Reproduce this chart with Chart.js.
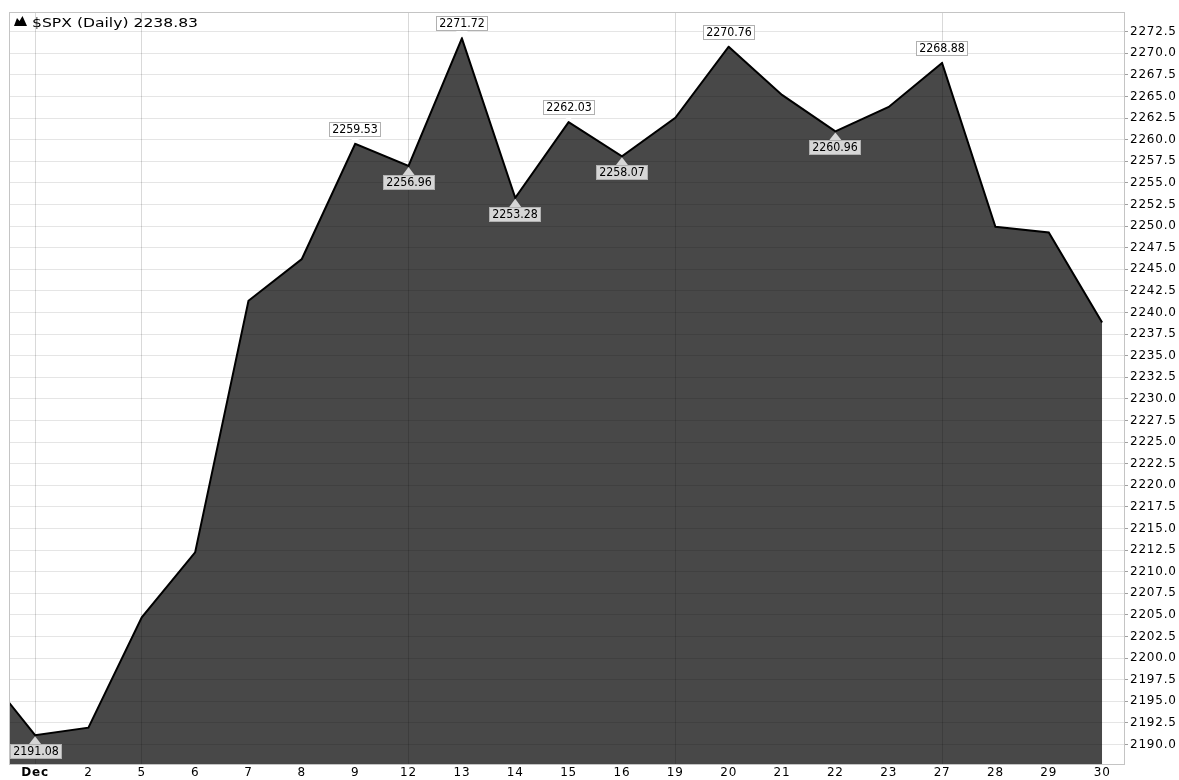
<!DOCTYPE html>
<html>
<head>
<meta charset="utf-8">
<script src="https://cdn.jsdelivr.net/npm/chart.js@4.4.1/dist/chart.umd.min.js"></script>
<style>
  html, body { margin: 0; padding: 0; background: #fff; }
  #wrap { width: 1179px; height: 780px; }
</style>
</head>
<body>
<div id="wrap"><canvas id="spx" width="1179" height="780"></canvas></div>
<script>
// trading days, Nov 30 sits just off the left edge
const dayLabels = ['', 'Dec', '2', '5', '6', '7', '8', '9', '12', '13', '14', '15', '16',
  '19', '20', '21', '22', '23', '27', '28', '29', '30'];
const closes = [2198.81, 2191.08, 2191.95, 2204.71, 2212.23, 2241.35, 2246.19, 2259.53,
  2256.96, 2271.72, 2253.28, 2262.03, 2258.07, 2262.53, 2270.76, 2265.18, 2260.96,
  2263.79, 2268.88, 2249.92, 2249.26, 2238.83];
// days that get a vertical grid line
const weekStarts = ['Dec', '5', '12', '19', '27'];

const titleText = '$SPX (Daily) 2238.83';
const yMin = 2187.74, yMax = 2274.78, yStep = 2.5;
const xMin = 0.53, xMax = 21.41;

const FONT = 'DejaVu Sans';

// =========================
// labels on peaks / troughs + title + frame
// =========================
const overlay = {
  id: 'overlay',
  beforeDraw(chart) {
    chart.ctx.letterSpacing = '0.8px';
  },
  afterDraw(chart) {
    const ctx = chart.ctx;
    const area = chart.chartArea;
    ctx.save();
    ctx.letterSpacing = '0px';

    // frame
    ctx.strokeStyle = '#c4c4c4';
    ctx.lineWidth = 1;
    ctx.strokeRect(Math.round(area.left) - 0.5, Math.round(area.top) + 0.5,
      Math.round(area.right - area.left) + 1, Math.round(area.bottom - area.top));

    // value boxes
    const meta = chart.getDatasetMeta(0);
    ctx.font = '12px ' + FONT;
    ctx.textBaseline = 'middle';
    ctx.textAlign = 'center';
    const sx = 0.92;
    for (let i = 1; i < closes.length - 1; i++) {
      const v = closes[i];
      const peak = v > closes[i - 1] && v > closes[i + 1];
      const trough = v < closes[i - 1] && v < closes[i + 1];
      if (!peak && !trough) continue;
      const pt = meta.data[i];
      const txt = v.toFixed(2);
      const w = Math.round(ctx.measureText(txt).width * sx) + 6;
      const h = 15;
      let bx = Math.round(pt.x - w / 2);
      bx = Math.max(Math.round(area.left), Math.min(bx, Math.round(area.right) - w));
      const by = peak ? Math.round(pt.y - 7 - h) : Math.round(pt.y + 9);
      const fill = peak ? '#ffffff' : '#d6d6d6';

      // pointer
      const baseY = peak ? by + h : by;
      const tipY = peak ? pt.y - 1 : pt.y + 1;
      ctx.beginPath();
      ctx.moveTo(pt.x - 6, baseY);
      ctx.lineTo(pt.x, tipY);
      ctx.lineTo(pt.x + 6, baseY);
      ctx.closePath();
      ctx.fillStyle = fill;
      ctx.fill();

      ctx.fillStyle = fill;
      ctx.fillRect(bx, by, w, h);
      ctx.strokeStyle = '#b0b0b0';
      ctx.strokeRect(bx + 0.5, by + 0.5, w - 1, h - 1);

      ctx.save();
      ctx.translate(bx + w / 2, by + h / 2 + 0.5);
      ctx.scale(sx, 1);
      ctx.fillStyle = '#000';
      ctx.fillText(txt, 0, 0);
      ctx.restore();
    }

    // title with small area icon
    ctx.beginPath();
    ctx.moveTo(14, 26);
    ctx.lineTo(17, 18);
    ctx.lineTo(19.5, 21);
    ctx.lineTo(22.5, 16);
    ctx.lineTo(27, 26);
    ctx.closePath();
    ctx.fillStyle = '#000';
    ctx.fill();

    ctx.translate(32, 27);
    ctx.scale(1.2, 1);
    ctx.font = '13px ' + FONT;
    ctx.textAlign = 'left';
    ctx.textBaseline = 'alphabetic';
    ctx.fillStyle = '#000';
    ctx.fillText(titleText, 0, 0);
    ctx.restore();
  }
};

new Chart(document.getElementById('spx'), {
  type: 'line',
  data: {
    datasets: [{
      data: closes.map((v, i) => ({ x: i, y: v })),
      borderColor: '#000',
      borderWidth: 2,
      backgroundColor: '#484848',
      fill: 'start',
      pointRadius: 0,
      tension: 0
    }]
  },
  options: {
    responsive: false,
    animation: false,
    devicePixelRatio: 1,
    layout: { padding: { left: 10, top: 12, right: 0, bottom: 0 } },
    plugins: {
      legend: { display: false },
      tooltip: { enabled: false }
    },
    scales: {
      x: {
        type: 'linear',
        min: xMin,
        max: xMax,
        afterFit: s => { s.height = 16; },
        border: { display: false },
        grid: {
          z: 1,
          drawTicks: false,
          color: c => (c.tick && weekStarts.includes(dayLabels[c.tick.value]))
            ? 'rgba(0,0,0,0.15)' : 'rgba(0,0,0,0)'
        },
        ticks: {
          stepSize: 1,
          includeBounds: false,
          autoSkip: false,
          maxRotation: 0,
          padding: 2,
          color: '#000',
          font: c => ({
            family: FONT,
            size: 12,
            weight: (c.tick && c.tick.value === 1) ? 'bold' : 'normal'
          }),
          callback: v => dayLabels[v]
        }
      },
      y: {
        position: 'right',
        min: yMin,
        max: yMax,
        afterFit: s => { s.width = 55; },
        border: { display: false },
        grid: {
          z: 1,
          color: 'rgba(0,0,0,0.1)',
          tickColor: '#a0a0a0',
          tickLength: 4
        },
        ticks: {
          stepSize: yStep,
          includeBounds: false,
          padding: 2,
          color: '#000',
          font: { family: FONT, size: 12 },
          callback: v => v.toFixed(1)
        }
      }
    }
  },
  plugins: [overlay]
});
</script>
</body>
</html>
